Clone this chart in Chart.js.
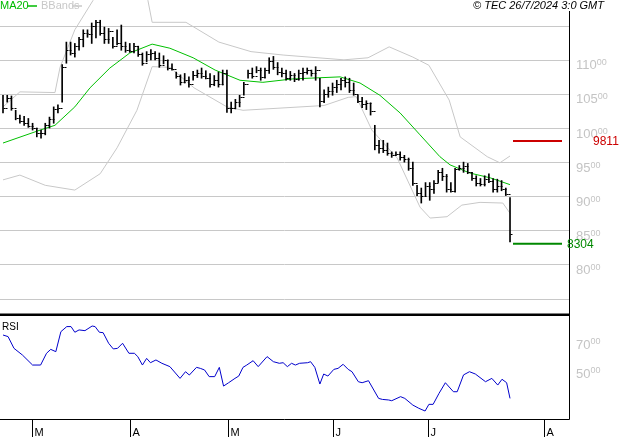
<!DOCTYPE html>
<html><head><meta charset="utf-8">
<script src="https://cdn.jsdelivr.net/npm/chart.js@4.4.1/dist/chart.umd.min.js"></script>
<style>body{margin:0;background:#fff;width:627px;height:440px;overflow:hidden;position:relative}
canvas{position:absolute;left:0}</style></head><body>
<canvas id="c1" width="627" height="316" style="top:0"></canvas>
<canvas id="c2" width="627" height="124" style="top:316px"></canvas>
<script>
const highs=[10480,10480,10470,10260,10190,10170,10140,10070,10000,9970,10070,10160,10310,10340,10930,11260,11260,11240,11330,11440,11440,11540,11580,11580,11480,11460,11330,11440,11510,11260,11240,11240,11200,11100,11120,11150,11120,11100,11060,11000,10940,10820,10780,10800,10750,10830,10850,10880,10840,10800,10770,10820,10850,10850,10380,10420,10480,10670,10850,10880,10900,10880,10880,11030,11050,10960,10880,10850,10830,10800,10850,10880,10880,10850,10900,10730,10560,10600,10660,10700,10730,10750,10730,10660,10480,10450,10400,10370,10040,9820,9820,9780,9650,9650,9650,9600,9560,9500,9160,9120,9200,9200,9230,9380,9410,9320,9200,9410,9450,9500,9480,9350,9300,9260,9300,9330,9260,9250,9230,9120,8980];
const lows=[10220,10380,10260,10120,10070,10040,10010,9970,9870,9850,9900,10000,10070,10220,10380,10950,11070,11040,11140,11190,11330,11240,11320,11360,11240,11240,11170,11220,11140,11110,11110,11100,11050,10920,10970,11000,11000,10890,10940,10850,10850,10730,10630,10660,10600,10700,10740,10730,10720,10600,10620,10600,10630,10230,10220,10280,10310,10480,10730,10730,10810,10700,10730,10800,10860,10780,10750,10700,10700,10680,10700,10700,10790,10760,10700,10310,10370,10450,10480,10520,10560,10600,10520,10480,10370,10300,10270,10190,9680,9630,9640,9600,9570,9600,9530,9500,9380,9160,9010,8900,9000,8940,9040,9200,9230,9060,9060,9060,9380,9350,9330,9230,9150,9150,9150,9200,9060,9060,9080,9010,8330];
const closes=[10300,10440,10300,10150,10100,10080,10030,10000,9920,9930,10050,10130,10280,10300,10900,11150,11100,11200,11300,11400,11380,11500,11550,11400,11300,11420,11200,11250,11200,11150,11130,11200,11080,10950,11080,11100,11020,10920,11000,10880,10870,10760,10680,10700,10650,10780,10800,10760,10740,10650,10700,10650,10800,10300,10300,10380,10450,10650,10800,10760,10850,10750,10850,10980,10900,10820,10800,10740,10780,10720,10800,10820,10850,10800,10850,10400,10500,10550,10600,10650,10700,10680,10560,10500,10400,10350,10360,10250,9750,9700,9680,9640,9600,9620,9580,9550,9420,9200,9050,9000,9150,9100,9200,9350,9300,9100,9080,9400,9420,9450,9350,9260,9200,9180,9250,9220,9100,9150,9100,9030,8450];
const maIdx=[0,8.8,12.3,17,20.6,25.3,30,35.3,39.5,45,50.2,56.1,61.5,68.6,79.8,84.5,89.2,94,98.7,103.4,105.8,110.5,115.3,120];
const maVal=[9780,9970,10040,10310,10590,10880,11100,11230,11170,11030,10850,10700,10670,10720,10750,10660,10480,10220,9900,9580,9460,9340,9270,9170];
const upIdx=[0,4,12.3,13.5,17,21.3,25.3,30,34.3,35.3,43.3,51.1,58.7,66.3,80.7,86.4,91.4,97,100.8,105.6,108.2,114.6,117.6,120];
const upVal=[10310,10530,10520,10890,11440,11870,12150,12150,11870,11550,11550,11260,11120,11070,11000,11030,11190,11040,10920,10410,9870,9580,9490,9590];
const loIdx=[0,4,10,17,23,27,31.7,35.3,39.5,45.2,53,56.8,76,81.7,83.6,87.3,93.3,98.7,101.1,105.1,108.6,112.9,118.3,120];
const loVal=[9240,9310,9160,9090,9330,9710,10260,10900,10890,10590,10310,10260,10330,10450,10460,9970,9560,8840,8680,8700,8870,8910,8900,8750];
const rsiIdx=[0,1.2,2.6,4.6,7,8.9,10.3,11.3,12.5,13.7,15.1,16.1,17,18,19.4,21.1,21.8,22.8,23.7,25,26.1,27.1,28.3,29.8,31.1,31.9,33,34,34.9,36.2,37.6,39.5,41.9,43.2,44.1,45.8,46.7,47.7,48.8,50.1,51.2,52.2,53.4,54.9,55.8,56.8,57.7,59.2,60.4,62.5,64,65.4,66.3,67.3,68.3,69.2,70.2,72.1,72.8,73.8,75,75.9,76.9,78.3,79.3,80.5,81.7,82.6,84.1,85,86.5,88.9,89.8,91.3,92,94.1,95.1,97,98.4,99.9,100.8,101.8,103.2,104.7,106.6,107.5,109,110.4,111.8,114.2,115.7,117.1,118.1,119.2,120];
const rsiVal=[75.5,74.4,66.3,61.7,54.8,54.8,62.9,65.6,64.0,77.8,81.3,81.3,77.4,79.0,78.5,81.7,81.3,77.4,77.1,69.8,65.9,66.3,69.8,62.9,62.9,60.6,54.8,59.4,56.4,58.3,56.0,53.7,45.6,50.2,47.9,53.2,52.5,51.4,46.8,46.8,53.2,40.3,42.6,45.6,47.2,53.2,54.8,57.8,53.7,60.6,57.1,56.0,56.4,53.7,56.0,54.8,56.0,56.4,57.1,53.2,41.7,48.6,47.2,51.8,52.5,55.3,51.8,50.2,43.3,42.6,44.0,31.8,31.1,30.7,30.2,33.0,31.8,27.2,25.0,23.1,27.7,27.7,35.3,42.6,36.4,36.4,48.0,50.2,48.6,43.3,45.6,41.0,45.0,42.6,31.8];
const priceTicks=[8000,8500,9000,9500,10000,10500,11000];
const rsiTicks=[50,70];
const monthIdx=[6.9,30.1,53.3,78.1,100.6,128.0];
const monthLbl=['M','A','M','J','J','A'];
const resistance=9811, support=8304;
const stampText='© TEC 26/7/2024 3:0 GMT';

const XMIN=-0.71, XMAX=133.96;
const FONT='"Liberation Sans", Arial, sans-serif';
function pts(ix,v){return ix.map((x,i)=>({x,y:v[i]}));}
function lbl(ctx,x,y,big,color){ctx.fillStyle=color;ctx.textBaseline='middle';ctx.textAlign='left';
 ctx.font='13px '+FONT;ctx.fillText(big,x,y);const w=ctx.measureText(big).width;
 ctx.font='9px '+FONT;ctx.fillText('00',x+w,y-3);}
const xOpt={type:'linear',min:XMIN,max:XMAX,display:false,offset:false,grid:{offset:false}};

const p1={id:'p1',
 beforeDatasetsDraw(ch){const c=ch.ctx,y=ch.scales.y,a=ch.chartArea;c.save();c.strokeStyle='#c8c8c8';c.lineWidth=1;
  [7500,8000,8500,9000,9500,10000,10500,11000,11500].forEach(v=>{const py=Math.round(y.getPixelForValue(v))+0.5;c.beginPath();c.moveTo(0,py);c.lineTo(a.right,py);c.stroke();});c.restore();},
 afterDatasetsDraw(ch){const c=ch.ctx,x=ch.scales.x,y=ch.scales.y,a=ch.chartArea;c.save();
  c.strokeStyle='#000';c.lineWidth=1;
  closes.forEach((cl,i)=>{const px=Math.round(x.getPixelForValue(i))+0.5;const cy=Math.round(y.getPixelForValue(cl))+0.5;
   c.beginPath();c.moveTo(px,cy);c.lineTo(px+2,cy);c.stroke();
   if(i>0){const oy=Math.round(y.getPixelForValue(closes[i-1]))+0.5;c.beginPath();c.moveTo(px-2,oy);c.lineTo(px,oy);c.stroke();}});
  c.beginPath();c.moveTo(a.right+0.5,11);c.lineTo(a.right+0.5,316);c.stroke();
  c.lineWidth=3;c.beginPath();c.moveTo(0,315);c.lineTo(a.right,315);c.stroke();
  priceTicks.forEach(v=>lbl(c,576,y.getPixelForValue(v)+6,String(v/100),'#c4c4c4'));
  const ry=y.getPixelForValue(resistance),sy=y.getPixelForValue(support);
  c.lineWidth=2;c.strokeStyle='#cc0000';c.beginPath();c.moveTo(513,ry);c.lineTo(562,ry);c.stroke();
  c.strokeStyle='#008800';c.beginPath();c.moveTo(513,sy);c.lineTo(562,sy);c.stroke();
  c.font='12px '+FONT;c.textBaseline='middle';c.textAlign='left';
  c.fillStyle='#cc0000';c.fillText(String(resistance),593,ry+1);
  c.fillStyle='#008800';c.fillText(String(support),567,sy+1);
  c.font='11px '+FONT;c.fillStyle='#00bb00';c.fillText('MA20',0,6);
  c.strokeStyle='#00bb00';c.lineWidth=1.5;c.beginPath();c.moveTo(27,6);c.lineTo(37,6);c.stroke();
  c.fillStyle='#c8c8c8';c.fillText('BBands',41,6);c.strokeStyle='#c8c8c8';c.beginPath();c.moveTo(72,6);c.lineTo(82,6);c.stroke();
  c.fillStyle='#000';c.font='italic 11px '+FONT;c.textAlign='right';c.fillText(stampText,604,6);
  c.restore();}};

new Chart(document.getElementById('c1'),{
 data:{datasets:[
  {type:'bar',data:highs.map((h,i)=>({x:i,y:[lows[i],h]})),backgroundColor:'#000',barThickness:1,order:0},
  {type:'line',data:pts(upIdx,upVal),borderColor:'#c8c8c8',borderWidth:1,pointRadius:0,order:2},
  {type:'line',data:pts(loIdx,loVal),borderColor:'#c8c8c8',borderWidth:1,pointRadius:0,order:2},
  {type:'line',data:pts(maIdx,maVal),borderColor:'#00c000',borderWidth:1,pointRadius:0,order:1}]},
 options:{responsive:false,animation:false,devicePixelRatio:1,layout:{padding:{left:0,right:58,top:0,bottom:0}},
  plugins:{legend:{display:false},tooltip:{enabled:false}},
  scales:{x:xOpt,y:{min:7244,max:11877,display:false}}},
 plugins:[p1]});

const p2={id:'p2',
 afterDatasetsDraw(ch){const c=ch.ctx,x=ch.scales.x,y=ch.scales.y,a=ch.chartArea;c.save();c.strokeStyle='#000';c.lineWidth=1;
  c.beginPath();c.moveTo(a.right+0.5,0);c.lineTo(a.right+0.5,a.bottom+0.5);c.lineTo(0,a.bottom+0.5);c.stroke();
  monthIdx.forEach((m,i)=>{const px=Math.round(x.getPixelForValue(m))+0.5;c.beginPath();c.moveTo(px,a.bottom);c.lineTo(px,a.bottom+18);c.stroke();
   c.fillStyle='#000';c.font='11px '+FONT;c.textAlign='left';c.textBaseline='middle';c.fillText(monthLbl[i],px+2,a.bottom+14);});
  rsiTicks.forEach(v=>lbl(c,576,y.getPixelForValue(v)+2,String(v),'#c4c4c4'));
  c.fillStyle='#000';c.font='10px '+FONT;c.textAlign='left';c.textBaseline='middle';c.fillText('RSI',2,11);
  c.restore();}};
new Chart(document.getElementById('c2'),{
 data:{datasets:[{type:'line',data:pts(rsiIdx,rsiVal),borderColor:'#0000cc',borderWidth:1,pointRadius:0}]},
 options:{responsive:false,animation:false,devicePixelRatio:1,layout:{padding:{left:0,right:58,top:0,bottom:21}},
  plugins:{legend:{display:false},tooltip:{enabled:false}},
  scales:{x:xOpt,y:{min:17.6,max:88.6,display:false}}},
 plugins:[p2]});
</script></body></html>
